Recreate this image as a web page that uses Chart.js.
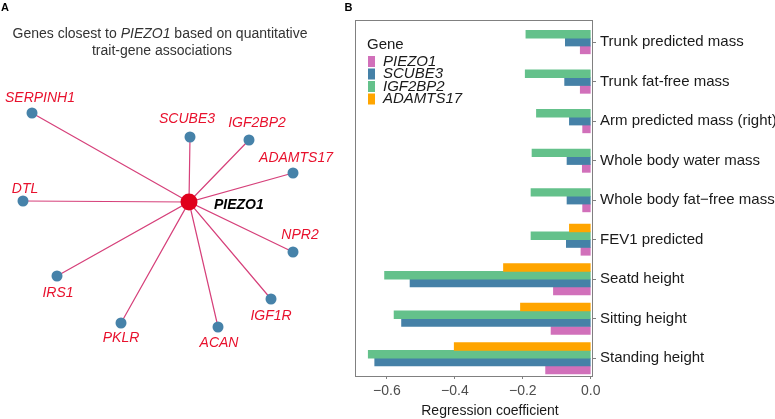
<!DOCTYPE html>
<html>
<head>
<meta charset="utf-8">
<script src="https://cdn.jsdelivr.net/npm/chart.js@4.4.1/dist/chart.umd.min.js"></script>
<style>
  html, body { margin: 0; padding: 0; background: #fff; }
  #wrap { position: relative; width: 775px; height: 419px; }
  #netBox { position: absolute; left: 0; top: 0; width: 344px; height: 419px; }
  #barBox { position: absolute; left: 344px; top: 0; width: 431px; height: 419px; }
</style>
</head>
<body>
<div id="wrap">
  <div id="netBox"><canvas id="netChart"></canvas></div>
  <div id="barBox"><canvas id="barChart"></canvas></div>
</div>
<script>
// panel A - network around the hub gene
const hubGene = "PIEZO1"
const neighbourGenes = ["SERPINH1", "SCUBE3", "IGF2BP2", "ADAMTS17", "DTL", "NPR2", "IRS1", "PKLR", "ACAN", "IGF1R"]
const layoutX = [-1.57, 0.01, 0.60, 1.04, -1.66, 1.04, -1.32, -0.68, 0.29, 0.82]
const layoutY = [0.89, 0.65, 0.62, 0.29, 0.01, -0.50, -0.74, -1.21, -1.25, -0.97]

// panel B - regression coefficients per trait
const traits = ["Trunk predicted mass", "Trunk fat-free mass", "Arm predicted mass (right)", "Whole body water mass",
    "Whole body fat\u2212free mass", "FEV1 predicted", "Seatd height", "Sitting height", "Standing height"]
const piezo1 = [-0.031, -0.031, -0.024, -0.025, -0.024, -0.029, -0.110, -0.117, -0.133]
const scube3 = [-0.075, -0.077, -0.063, -0.070, -0.070, -0.072, -0.532, -0.557, -0.636]
const igf2bp2 = [-0.191, -0.193, -0.160, -0.173, -0.176, -0.176, -0.607, -0.579, -0.655]
const adamts17 = [null, null, null, null, null, -0.063, -0.257, -0.207, -0.402]
const xTicks = [-0.6, -0.4, -0.2, 0.0]

const FONT = "'Liberation Sans', Arial, sans-serif"
const labelRed = "#E8112D"
// label nudges in px (dx, dy) from each node
const labelNudge = [[8, -15], [-3, -18], [8, -17], [3, -15], [2, -12], [7, -17], [1, 17], [0, 15], [1, 16], [0, 17]]

const edgePoints = []
neighbourGenes.forEach((g, i) => {
    edgePoints.push({ x: 0, y: 0 })
    edgePoints.push({ x: layoutX[i], y: layoutY[i] })
})

const netLabels = {
    id: "netLabels",
    afterDatasetsDraw(chart) {
        const ctx = chart.ctx
        ctx.save()
        // panel letter
        ctx.fillStyle = "#000"
        ctx.font = "bold 11px " + FONT
        ctx.textBaseline = "top"
        ctx.textAlign = "left"
        ctx.fillText("A", 1, 2)

        // title, first line has an italic gene name
        ctx.fillStyle = "#333"
        ctx.textBaseline = "middle"
        const a = "Genes closest to ", b = hubGene, c = " based on quantitative"
        ctx.font = "14px " + FONT
        const wa = ctx.measureText(a).width, wc = ctx.measureText(c).width
        ctx.font = "italic 14px " + FONT
        const wb = ctx.measureText(b).width
        let x = 160 - (wa + wb + wc) / 2
        ctx.font = "14px " + FONT
        ctx.fillText(a, x, 34)
        ctx.font = "italic 14px " + FONT
        ctx.fillText(b, x + wa, 34)
        ctx.font = "14px " + FONT
        ctx.fillText(c, x + wa + wb, 34)
        ctx.textAlign = "center"
        ctx.fillText("trait-gene associations", 162, 51)

        // node labels
        const leaves = chart.getDatasetMeta(1).data
        ctx.font = "italic 14px " + FONT
        ctx.fillStyle = labelRed
        leaves.forEach((pt, i) => {
            ctx.fillText(neighbourGenes[i], pt.x + labelNudge[i][0], pt.y + labelNudge[i][1])
        })
        const hub = chart.getDatasetMeta(2).data[0]
        ctx.font = "italic bold 14px " + FONT
        ctx.fillStyle = "#000"
        ctx.textAlign = "left"
        ctx.fillText(hubGene, hub.x + 25, hub.y + 3)
        ctx.restore()
    }
}

const netChart = new Chart(document.getElementById("netChart"), {
    type: "scatter",
    data: {
        datasets: [
            {
                data: edgePoints, showLine: true, pointRadius: 0, borderColor: "#D6407A",
                borderWidth: 1.2, order: 3
            },
            {
                data: neighbourGenes.map((g, i) => ({ x: layoutX[i], y: layoutY[i] })),
                pointRadius: 5.5, backgroundColor: "#4682A9", borderWidth: 0, order: 2
            },
            {
                data: [{ x: 0, y: 0 }], pointRadius: 8.5, backgroundColor: "#E0001B", borderWidth: 0, order: 1
            }
        ]
    },
    options: {
        responsive: true,
        maintainAspectRatio: false,
        animation: false,
        layout: { padding: 0, autoPadding: false },
        scales: {
            x: { type: "linear", display: false, min: -1.89, max: 1.55 },
            y: { type: "linear", display: false, min: -2.17, max: 2.02 }
        },
        plugins: { legend: { display: false }, tooltip: { enabled: false } }
    },
    plugins: [netLabels]
})


const genes = [
    { name: "ADAMTS17", values: adamts17, color: "#FFA500" },
    { name: "IGF2BP2", values: igf2bp2, color: "#64C18B" },
    { name: "SCUBE3", values: scube3, color: "#4581A7" },
    { name: "PIEZO1", values: piezo1, color: "#D170BA" },
]

const frameAndLegend = {
    id: "frameAndLegend",
    afterDatasetsDraw(chart) {
        const ctx = chart.ctx
        const area = chart.chartArea
        ctx.save()
        ctx.strokeStyle = "#808080"
        ctx.lineWidth = 1
        ctx.strokeRect(Math.round(area.left) + 0.5, Math.round(area.top) + 0.5,
            Math.round(area.right - area.left) - 1, Math.round(area.bottom - area.top))

        ctx.fillStyle = "#000"
        ctx.font = "bold 11px " + FONT
        ctx.textBaseline = "top"
        ctx.fillText("B", 0.5, 2)

        // legend, listed in reverse of the drawing order
        ctx.textBaseline = "middle"
        ctx.fillStyle = "#1A1A1A"
        ctx.font = "15px " + FONT
        ctx.fillText("Gene", 23, 45)
        const list = chart.data.datasets.slice().reverse()
        list.forEach((ds, i) => {
            const top = 56 + i * 12.5
            ctx.fillStyle = ds.backgroundColor
            ctx.fillRect(24, top, 7, 11)
            ctx.fillStyle = "#1A1A1A"
            ctx.font = "italic 15px " + FONT
            ctx.fillText(ds.label, 39, top + 5.5)
        })

        ctx.font = "14px " + FONT
        ctx.textAlign = "center"
        ctx.fillText("Regression coefficient", 146, 411)
        ctx.restore()
    }
}

const barChart = new Chart(document.getElementById("barChart"), {
    type: "bar",
    data: {
        datasets: genes.map(g => ({
            label: g.name,
            data: g.values.map((v, i) => ({ x: v, y: i })),
            backgroundColor: g.color,
            borderWidth: 0,
            barThickness: 7.8,
            skipNull: true
        }))
    },
    options: {
        indexAxis: "y",
        responsive: true,
        maintainAspectRatio: false,
        animation: false,
        layout: { padding: { left: 11, top: 20, right: 0, bottom: 0 }, autoPadding: false },
        scales: {
            x: {
                type: "linear",
                min: -0.694,
                max: 0.0065,
                offset: false,
                afterBuildTicks: s => { s.ticks = xTicks.map(v => ({ value: v })) },
                afterFit: s => { s.height = 43 },
                ticks: {
                    callback: v => v.toFixed(1).replace("-", "\u2212"),
                    color: "#4D4D4D",
                    font: { size: 14, family: FONT },
                    padding: 4,
                    maxRotation: 0,
                    autoSkip: false
                },
                grid: { offset: false, drawOnChartArea: false, drawTicks: true, tickLength: 3, color: "#808080" },
                border: { display: false }
            },
            y: {
                type: "linear",
                position: "right",
                reverse: true,
                offset: false,
                min: -0.56,
                max: 8.45,
                afterBuildTicks: s => { s.ticks = traits.map((t, i) => ({ value: i })) },
                afterFit: s => { s.width = 182 },
                ticks: {
                    callback: v => traits[v],
                    color: "#1A1A1A",
                    font: { size: 15, family: FONT },
                    padding: 4,
                    autoSkip: false
                },
                grid: { offset: false, drawOnChartArea: false, drawTicks: true, tickLength: 3, color: "#808080" },
                border: { display: false }
            }
        },
        plugins: { legend: { display: false }, tooltip: { enabled: false } }
    },
    plugins: [frameAndLegend]
})
</script>
</body>
</html>
